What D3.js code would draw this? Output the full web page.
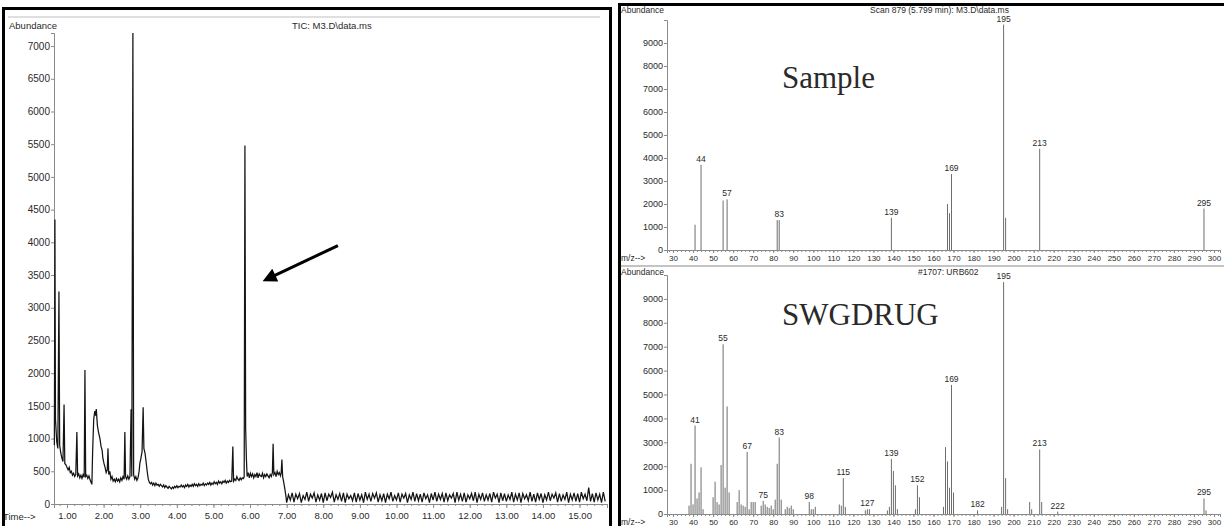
<!DOCTYPE html>
<html>
<head>
<meta charset="utf-8">
<script src="https://cdn.jsdelivr.net/npm/d3@7"></script>
<style>
    body { margin: 0; background: #fff; }
    svg { display: block; }
    text { font-family: "Liberation Sans", Arial, sans-serif; fill: #2a2a2a; }
    .axis path, .axis line { stroke: #8a8a8a; }
</style>
</head>
<body>
<div id="chart"></div>
<script>
// ---- TIC chromatogram (left panel): [time in min, abundance] ----
const ticTrace = [
    [0.655, 900], [0.67, 4350], [0.685, 1300], [0.72, 950], [0.75, 850], [0.78, 3250], [0.80, 900],
    [0.83, 780], [0.86, 700], [0.89, 650], [0.92, 1520], [0.94, 620], [0.97, 600], [1.00, 560],
    [1.03, 520], [1.06, 560], [1.09, 480], [1.12, 500], [1.15, 440], [1.18, 470], [1.21, 420],
    [1.24, 450], [1.27, 1100], [1.29, 430], [1.32, 460], [1.35, 400], [1.38, 440], [1.41, 390],
    [1.44, 450], [1.47, 410], [1.49, 2050], [1.51, 420], [1.54, 440], [1.57, 390], [1.60, 430],
    [1.63, 370], [1.66, 330], [1.68, 300], [1.70, 800], [1.73, 1300], [1.76, 1420], [1.78, 1350],
    [1.80, 1450], [1.83, 1200], [1.86, 1100], [1.90, 1000], [1.93, 880], [1.96, 820], [1.98, 700],
    [2.01, 620], [2.04, 560], [2.07, 480], [2.10, 520], [2.12, 850], [2.14, 450], [2.17, 500],
    [2.20, 380], [2.23, 420], [2.26, 350], [2.29, 380], [2.32, 340], [2.35, 390], [2.38, 350],
    [2.41, 380], [2.44, 340], [2.47, 400], [2.50, 360], [2.53, 420], [2.56, 380], [2.58, 1100],
    [2.60, 420], [2.63, 380], [2.66, 430], [2.69, 380], [2.72, 420], [2.75, 1450], [2.77, 420],
    [2.80, 7200], [2.82, 450], [2.85, 380], [2.88, 420], [2.91, 360], [2.94, 400], [2.97, 500],
    [2.99, 620], [3.02, 700], [3.05, 800], [3.08, 1480], [3.10, 850], [3.13, 780], [3.16, 650],
    [3.19, 500], [3.22, 380], [3.25, 330], [3.28, 310], [3.31, 330], [3.34, 290], [3.37, 320],
    [3.40, 280], [3.43, 320], [3.46, 290], [3.49, 300], [3.52, 270], [3.55, 300], [3.58, 280],
    [3.61, 260], [3.64, 290], [3.67, 250], [3.70, 280], [3.73, 260], [3.76, 240], [3.79, 270],
    [3.82, 250], [3.85, 230], [3.88, 260], [3.91, 240], [3.94, 270], [3.97, 250], [4.00, 280],
    [4.03, 250], [4.06, 270], [4.09, 260], [4.12, 290], [4.15, 260], [4.18, 280], [4.21, 250],
    [4.24, 290], [4.27, 270], [4.30, 300], [4.33, 260], [4.36, 290], [4.39, 270], [4.42, 300],
    [4.45, 270], [4.48, 310], [4.51, 280], [4.54, 300], [4.57, 270], [4.60, 310], [4.63, 280],
    [4.66, 300], [4.69, 290], [4.72, 320], [4.75, 280], [4.78, 310], [4.81, 290], [4.84, 320],
    [4.87, 300], [4.90, 330], [4.93, 290], [4.96, 320], [4.99, 300], [5.02, 340], [5.05, 310],
    [5.08, 330], [5.11, 300], [5.14, 350], [5.17, 320], [5.20, 340], [5.23, 310], [5.26, 350],
    [5.29, 330], [5.32, 360], [5.35, 320], [5.38, 350], [5.41, 330], [5.44, 360], [5.47, 340],
    [5.50, 350], [5.53, 880], [5.55, 350], [5.58, 380], [5.61, 360], [5.64, 420], [5.67, 380],
    [5.70, 360], [5.73, 400], [5.76, 370], [5.79, 400], [5.82, 390], [5.84, 420], [5.86, 5480],
    [5.88, 1150], [5.90, 700], [5.92, 420], [5.95, 480], [5.98, 400], [6.01, 470], [6.04, 420],
    [6.07, 460], [6.10, 400], [6.13, 450], [6.16, 420], [6.19, 480], [6.22, 400], [6.25, 460],
    [6.28, 430], [6.31, 420], [6.34, 470], [6.37, 400], [6.40, 450], [6.43, 420], [6.46, 460],
    [6.49, 430], [6.52, 400], [6.55, 450], [6.58, 420], [6.61, 480], [6.63, 920], [6.65, 450],
    [6.68, 480], [6.71, 420], [6.74, 500], [6.77, 450], [6.80, 480], [6.83, 430], [6.85, 470],
    [6.87, 680], [6.89, 420], [6.92, 330], [6.95, 230], [6.98, 120]
];

// flat noisy baseline after 7 min, one reading every 0.05 min
const ticNoiseStart = 7.0;
const ticNoiseStep = 0.05;
const ticNoise = [
    20, 140, 60, 170, 30, 150, 80, 160, 20, 130, 70, 180, 40, 150, 90, 170, 30, 140, 60, 160,
    20, 170, 50, 150, 100, 180, 30, 140, 70, 160, 40, 170, 20, 150, 80, 130, 50, 170, 30, 160,
    60, 140, 20, 180, 70, 150, 40, 160, 90, 170, 30, 140, 50, 160, 20, 150, 80, 180, 40, 130,
    60, 170, 30, 150, 90, 160, 20, 140, 70, 180, 40, 160, 50, 150, 30, 170, 80, 140, 20, 160,
    60, 180, 40, 150, 70, 160, 30, 170, 50, 140, 90, 160, 20, 180, 60, 150, 40, 170, 30, 140,
    80, 160, 50, 180, 20, 150, 70, 170, 40, 140, 60, 160, 30, 180, 90, 150, 20, 170, 50, 160,
    40, 140, 70, 180, 30, 150, 60, 170, 20, 160, 80, 140, 50, 180, 40, 150, 30, 170, 70, 160,
    20, 140, 60, 180, 50, 150, 90, 170, 30, 160, 40, 140, 70, 180, 20, 150, 60, 170, 40, 160,
    30, 180, 80, 150, 50, 250, 40, 160, 30, 170, 60, 150, 20, 180, 40
];

const ticTimeTicks = [1, 2, 3, 4, 5, 6, 7, 8, 9, 10, 11, 12, 13, 14, 15];
const ticAbundanceTicks = [0, 500, 1000, 1500, 2000, 2500, 3000, 3500, 4000, 4500, 5000, 5500, 6000, 6500, 7000];

// ---- Mass spectra (right panels) ----
const sampleMz = [41, 44, 55, 57, 82, 83, 139, 167, 168, 169, 195, 196, 213, 295];
const sampleAbundance = [1100, 3700, 2150, 2200, 1300, 1300, 1400, 2000, 1600, 3300, 9800, 1400, 4400, 1800];
const sampleLabels = [44, 57, 83, 139, 169, 195, 213, 295];

const refMz = [38, 39, 40, 41, 42, 43, 44, 45, 50, 51, 52, 53, 54, 55, 56, 57, 58, 62, 63, 64, 65, 66,
    67, 68, 69, 70, 71, 74, 75, 76, 77, 78, 79, 80, 81, 82, 83, 84, 86, 87, 88, 89, 90, 98, 99, 100, 101,
    113, 114, 115, 116, 126, 127, 128, 137, 138, 139, 140, 141, 142, 151, 152, 153, 165, 166, 167, 168,
    169, 170, 182, 194, 195, 196, 197, 208, 209, 213, 214, 222, 295, 296];
const refAbundance = [350, 2100, 400, 3700, 650, 900, 1950, 200, 700, 1350, 500, 400, 2050, 7100, 1100,
    4500, 900, 500, 1000, 400, 350, 300, 2600, 200, 500, 500, 500, 350, 550, 400, 300, 250, 350, 200, 600,
    2100, 3200, 600, 200, 300, 250, 350, 200, 500, 200, 200, 300, 400, 350, 1500, 300, 150, 200, 200, 150,
    300, 2300, 1800, 1200, 200, 200, 1200, 700, 300, 2800, 2200, 1100, 5400, 900, 150, 300, 9700, 1500,
    200, 500, 200, 2700, 500, 100, 650, 150];
const refLabels = [41, 55, 67, 75, 83, 98, 115, 127, 139, 152, 169, 182, 195, 213, 222, 295];

const mzTicks = [30, 40, 50, 60, 70, 80, 90, 100, 110, 120, 130, 140, 150, 160, 170, 180, 190, 200,
    210, 220, 230, 240, 250, 260, 270, 280, 290, 300];
const spectrumAbundanceTicks = [0, 1000, 2000, 3000, 4000, 5000, 6000, 7000, 8000, 9000];

const svg = d3.select('#chart').append('svg').attr('width', 1224).attr('height', 526);

function styleAxis(g, size) {
    g.attr('class', 'axis');
    g.select('.domain').attr('stroke', '#8a8a8a');
    g.selectAll('text').style('font-size', size + 'px').attr('fill', '#333');
}

function drawChromatogram() {
    const x = d3.scaleLinear().domain([0.645, 15.75]).range([54, 607]);
    const y = d3.scaleLinear().domain([0, 7200]).range([504, 33]);

    // faint scan line under the top border
    svg.append('line').attr('x1', 8).attr('x2', 600).attr('y1', 17).attr('y2', 17)
        .attr('stroke', '#d4d4d4').attr('stroke-width', 1.5);

    // axes
    svg.append('g').attr('transform', 'translate(0,504)')
        .call(d3.axisBottom(x).tickValues(d3.range(0.8, 15.7, 0.2)).tickSize(2).tickFormat(''))
        .call(g => styleAxis(g, 9));
    svg.append('g').attr('transform', 'translate(0,504)')
        .call(d3.axisBottom(x).tickValues(ticTimeTicks).tickSize(4).tickPadding(4).tickFormat(d3.format('.2f')))
        .call(g => styleAxis(g, 9.5));
    svg.append('g').attr('transform', 'translate(54,0)')
        .call(d3.axisLeft(y).tickValues(ticAbundanceTicks).tickSize(3).tickPadding(1).tickFormat(d3.format('d')))
        .call(g => styleAxis(g, 10));

    // trace
    const noisePoints = ticNoise.map((v, i) => [ticNoiseStart + i * ticNoiseStep, v]);
    const line = d3.line().x(d => x(d[0])).y(d => y(d[1]));
    svg.append('path').datum(ticTrace.concat(noisePoints)).attr('d', line)
        .attr('fill', 'none').attr('stroke', '#141414').attr('stroke-width', 1.25);

    svg.append('text').attr('x', 9).attr('y', 29).style('font-size', '9.5px').text('Abundance');
    svg.append('text').attr('x', 292).attr('y', 29).style('font-size', '9.5px').text('TIC: M3.D\\data.ms');
    svg.append('text').attr('x', 3).attr('y', 520).style('font-size', '9.5px').text('Time-->');

    // arrow pointing at the 5.8 min peak
    svg.append('defs').append('marker').attr('id', 'head')
        .attr('viewBox', '0 0 10 10').attr('refX', 2).attr('refY', 5)
        .attr('markerUnits', 'userSpaceOnUse').attr('markerWidth', 18).attr('markerHeight', 14)
        .attr('orient', 'auto')
        .append('path').attr('d', 'M0,0 L10,5 L0,10 z').attr('fill', '#000');
    svg.append('line')
        .attr('x1', x(8.4)).attr('y1', y(3950)).attr('x2', x(6.62)).attr('y2', y(3480))
        .attr('stroke', '#000').attr('stroke-width', 3).attr('marker-end', 'url(#head)');
}

function drawSpectrum(top, bottom, mz, abundance, labels, title, titleY, bigLabel, bigY) {
    const x = d3.scaleLinear().domain([27, 303]).range([667, 1220]);
    const y = d3.scaleLinear().domain([0, 10000]).range([bottom, top]);

    svg.append('g').attr('transform', `translate(0,${bottom})`)
        .call(d3.axisBottom(x).tickValues(d3.range(28, 303, 2)).tickSize(2).tickFormat(''))
        .call(g => styleAxis(g, 8));
    svg.append('g').attr('transform', `translate(0,${bottom})`)
        .call(d3.axisBottom(x).tickValues(mzTicks).tickSize(3).tickPadding(2))
        .call(g => styleAxis(g, 8));
    svg.append('g').attr('transform', 'translate(667,0)')
        .call(d3.axisLeft(y).tickValues(spectrumAbundanceTicks).tickSize(3).tickPadding(1).tickFormat(d3.format('d')))
        .call(g => styleAxis(g, 9));

    const peaks = mz.map((m, i) => ({ mz: m, ab: abundance[i] }));
    svg.append('g').selectAll('line').data(peaks).join('line')
        .attr('x1', d => x(d.mz)).attr('x2', d => x(d.mz))
        .attr('y1', y(0)).attr('y2', d => y(d.ab))
        .attr('stroke', '#6e6e6e').attr('stroke-width', 1);

    svg.append('g').selectAll('text').data(peaks.filter(d => labels.includes(d.mz))).join('text')
        .attr('x', d => x(d.mz)).attr('y', d => y(d.ab) - 3)
        .attr('text-anchor', 'middle').style('font-size', '8.5px').text(d => d.mz);

    svg.append('text').attr('x', 621).attr('y', titleY).style('font-size', '8.5px').text('Abundance');
    svg.append('text').attr('x', 621).attr('y', bottom + 11).style('font-size', '8.5px').text('m/z-->');
    svg.append('text').attr('x', title.x).attr('y', titleY).style('font-size', '8.5px').text(title.text);
    svg.append('text').attr('x', 782).attr('y', bigY)
        .style('font-family', '"Liberation Serif", "Times New Roman", serif').style('font-size', '31px')
        .attr('fill', '#000').text(bigLabel);
}

function drawFrames() {
    svg.append('line').attr('x1', 621).attr('x2', 1224).attr('y1', 266).attr('y2', 266)
        .attr('stroke', '#c4c4c4').attr('stroke-width', 2);
    svg.append('rect').attr('x', 3.5).attr('y', 8.5).attr('width', 607).attr('height', 540)
        .attr('fill', 'none').attr('stroke', '#000').attr('stroke-width', 3);
    svg.append('rect').attr('x', 619.5).attr('y', 4.5).attr('width', 620).attr('height', 540)
        .attr('fill', 'none').attr('stroke', '#000').attr('stroke-width', 3);
}

drawChromatogram();
drawSpectrum(20, 250, sampleMz, sampleAbundance, sampleLabels,
    { x: 870, text: 'Scan 879 (5.799 min): M3.D\\data.ms' }, 13, 'Sample', 88);
drawSpectrum(275, 514, refMz, refAbundance, refLabels,
    { x: 918, text: '#1707: URB602' }, 275, 'SWGDRUG', 325);
drawFrames();
</script>
</body>
</html>
